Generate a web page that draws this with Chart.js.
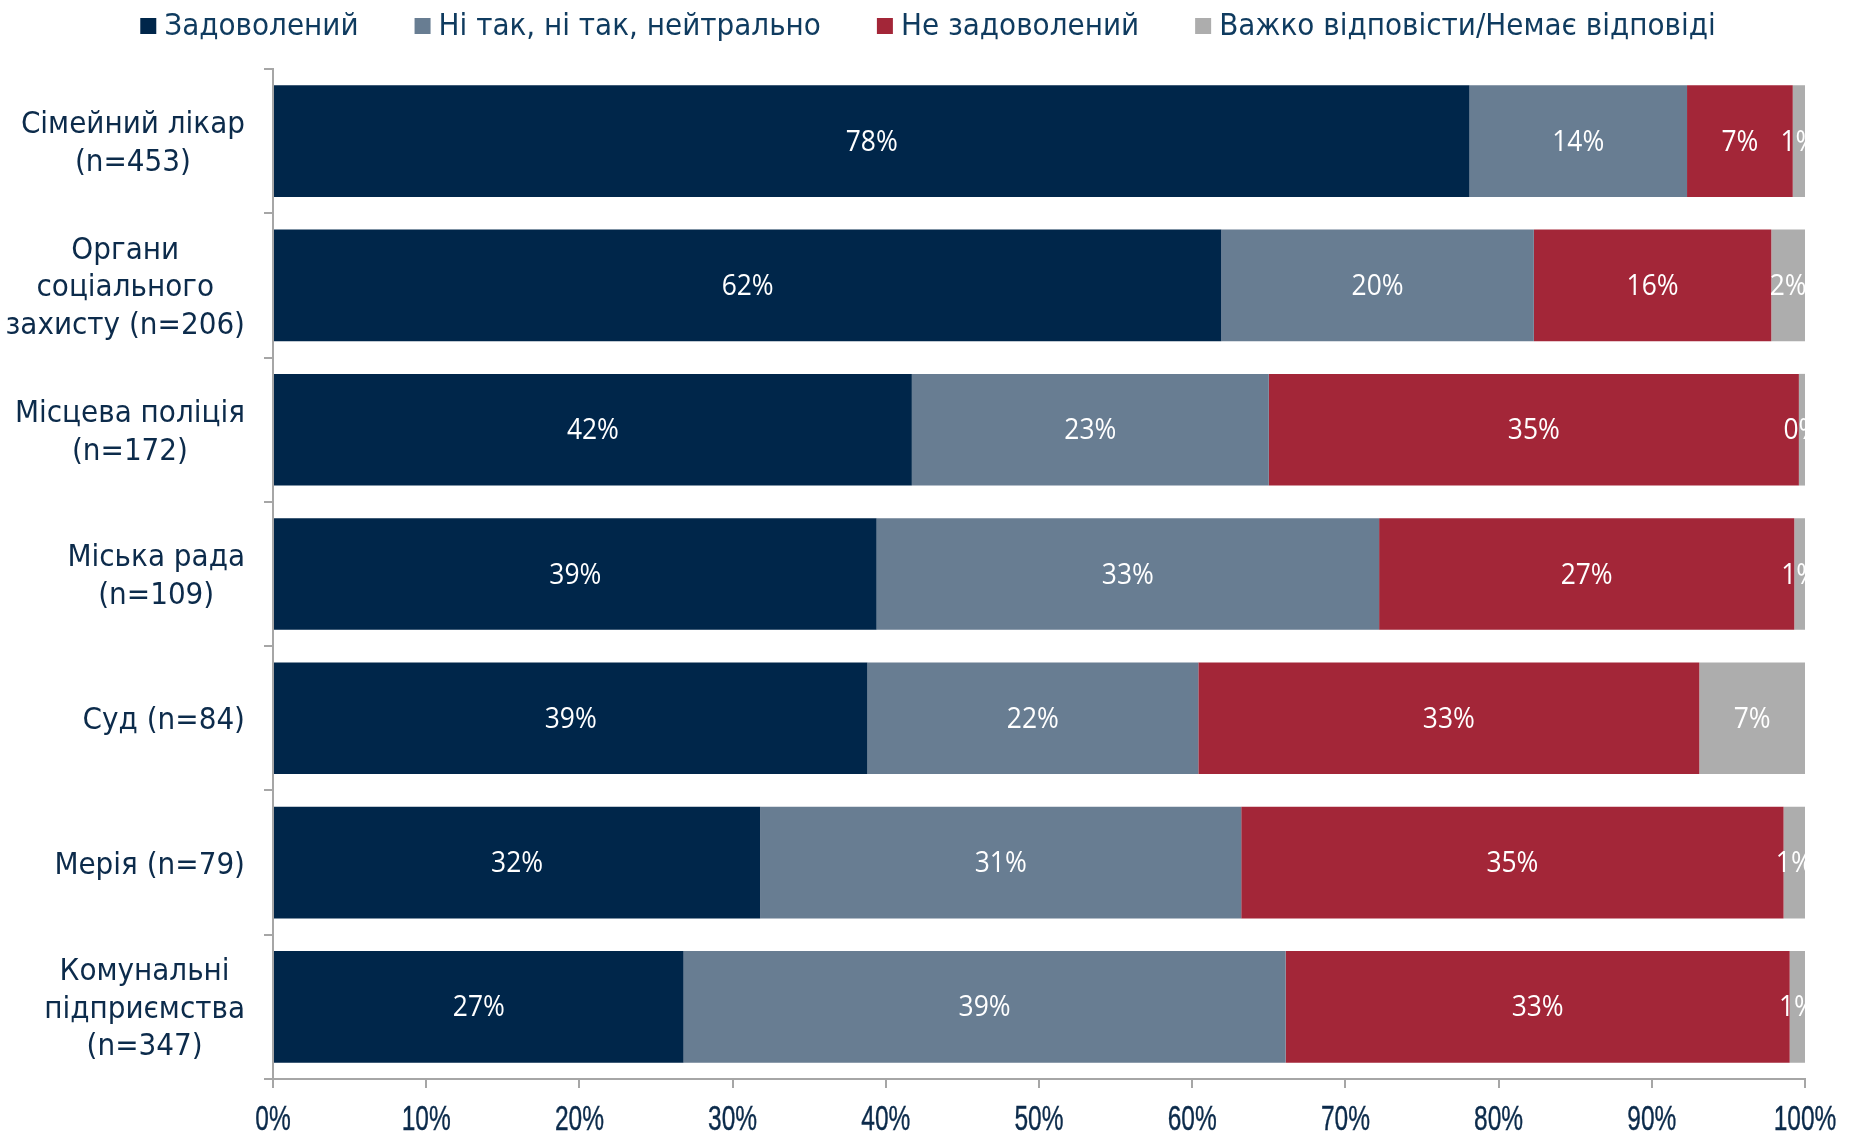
<!DOCTYPE html>
<html><head><meta charset="utf-8">
<script src="https://cdn.jsdelivr.net/npm/chart.js@4"></script>
<style>html,body{margin:0;padding:0;background:#fff}#wrap{width:1856px;height:1134px}</style>
</head><body><div id="wrap"><canvas id="c" width="1856" height="1134"></canvas></div>
<script>
const categories = [
  ["Сімейний лікар", "(n=453)"],
  ["Органи", "соціального", "захисту (n=206)"],
  ["Місцева поліція", "(n=172)"],
  ["Міська рада", "(n=109)"],
  ["Суд (n=84)"],
  ["Мерія (n=79)"],
  ["Комунальні", "підприємства", "(n=347)"]
];
const seriesNames = ["Задоволений", "Ні так, ні так, нейтрально", "Не задоволений", "Важко відповісти/Немає відповіді"];
const satisfied    = [78.1, 61.9, 41.7, 39.4, 38.8, 31.8, 26.8];
const neutral      = [14.2, 20.4, 23.3, 32.8, 21.6, 31.4, 39.3];
const dissatisfied = [6.9, 15.5, 34.6, 27.1, 32.7, 35.4, 32.9];
const noAnswer     = [0.8, 2.2, 0.4, 0.7, 6.9, 1.4, 1.0];
const xTickValues  = [0, 10, 20, 30, 40, 50, 60, 70, 80, 90, 100];

const colors = ["#00264a", "#687d92", "#a32638", "#adadad"];
const textNavy = "#0c2b4b";
const catFont = '"DejaVu Sans Condensed", "DejaVu Sans", sans-serif';

const valueLabels = {
  id: 'valueLabels',
  afterDatasetsDraw(chart) {
    const { ctx, chartArea } = chart;
    ctx.save();
    ctx.beginPath();
    ctx.rect(chartArea.left, chartArea.top, chartArea.right - chartArea.left, chartArea.bottom - chartArea.top);
    ctx.clip();
    ctx.font = '30px "Open Sans"';
    ctx.fillStyle = '#ffffff';
    ctx.textAlign = 'center';
    ctx.textBaseline = 'middle';
    chart.data.datasets.forEach((ds, i) => {
      const meta = chart.getDatasetMeta(i);
      meta.data.forEach((bar, j) => {
        const cx = (bar.x + bar.base) / 2;
        ctx.save();
        ctx.translate(cx, bar.y + 1);
        ctx.scale(0.88, 1);
        ctx.fillText(Math.round(ds.data[j]) + '%', 0, 0);
        ctx.restore();
      });
    });
    ctx.restore();
  }
};

const customLegend = {
  id: 'customLegend',
  afterDraw(chart) {
    const { ctx } = chart;
    ctx.save();
    ctx.font = '31px ' + catFont;
    ctx.textBaseline = 'middle';
    ctx.textAlign = 'left';
    const box = 16, gap = 8, sep = 56, yc = 26;
    const items = chart.data.datasets.map(ds => ({ text: ds.label, color: ds.backgroundColor, w: ctx.measureText(ds.label).width }));
    const total = items.reduce((s, it) => s + box + gap + it.w, 0) + sep * (items.length - 1);
    let x = (chart.width - total) / 2;
    items.forEach(it => {
      ctx.fillStyle = it.color;
      ctx.fillRect(x, yc - box / 2, box, box);
      ctx.fillStyle = '#0f3b5f';
      ctx.fillText(it.text, x + box + gap, yc + 1);
      x += box + gap + it.w + sep;
    });
    ctx.restore();
  }
};

const axisLabels = {
  id: 'axisLabels',
  afterDraw(chart) {
    const { ctx } = chart;
    const ys = chart.scales.y, xs = chart.scales.x;
    ctx.save();
    ctx.fillStyle = textNavy;
    ctx.textBaseline = 'middle';
    ctx.textAlign = 'center';
    ctx.font = '31px ' + catFont;
    const right = ys.right - 28, lh = 37.5;
    categories.forEach((lines, i) => {
      const cy = ys.getPixelForValue(i);
      const bw = Math.max(...lines.map(l => ctx.measureText(l).width));
      const cx = right - bw / 2;
      const start = cy - (lines.length - 1) * lh / 2;
      lines.forEach((l, k) => ctx.fillText(l, cx, start + k * lh + 3));
    });
    ctx.font = '35px "Liberation Sans", sans-serif';
    ctx.strokeStyle = textNavy;
    ctx.lineWidth = 0.4;
    const sx = 0.7;
    xTickValues.forEach(v => {
      const px = xs.getPixelForValue(v);
      ctx.save();
      ctx.translate(px, 1120);
      ctx.scale(sx, 1);
      ctx.fillText(v + '%', 0, 0);
      ctx.strokeText(v + '%', 0, 0);
      ctx.restore();
    });
    ctx.restore();
  }
};

new Chart(document.getElementById('c'), {
  type: 'bar',
  data: {
    labels: categories,
    datasets: [
      { label: seriesNames[0], data: satisfied, backgroundColor: colors[0] },
      { label: seriesNames[1], data: neutral, backgroundColor: colors[1] },
      { label: seriesNames[2], data: dissatisfied, backgroundColor: colors[2] },
      { label: seriesNames[3], data: noAnswer, backgroundColor: colors[3] }
    ]
  },
  options: {
    indexAxis: 'y',
    responsive: false,
    animation: false,
    devicePixelRatio: 1,
    layout: { padding: { left: 0, right: 51, top: 69, bottom: 0 } },
    datasets: { bar: { categoryPercentage: 1, barPercentage: 0.774, borderWidth: 0 } },
    scales: {
      x: {
        stacked: true, min: 0, max: 100,
        afterBuildTicks(scale) { scale.ticks = xTickValues.map(v => ({ value: v })); },
        afterFit(scale) { scale.height = 55; },
        border: { display: true, color: '#a6a6a6', width: 2 },
        grid: { drawOnChartArea: false, drawTicks: true, tickLength: 9, color: '#a6a6a6', lineWidth: 2 },
        ticks: { display: false }
      },
      y: {
        stacked: true,
        afterFit(scale) { scale.width = 273; },
        border: { display: true, color: '#a6a6a6', width: 2 },
        grid: { offset: true, drawOnChartArea: false, drawTicks: true, tickLength: 9, color: '#a6a6a6', lineWidth: 2 },
        ticks: { display: false }
      }
    },
    plugins: {
      legend: { display: false },
      tooltip: { enabled: false }
    }
  },
  plugins: [valueLabels, customLegend, axisLabels]
});
</script>
</body></html>
